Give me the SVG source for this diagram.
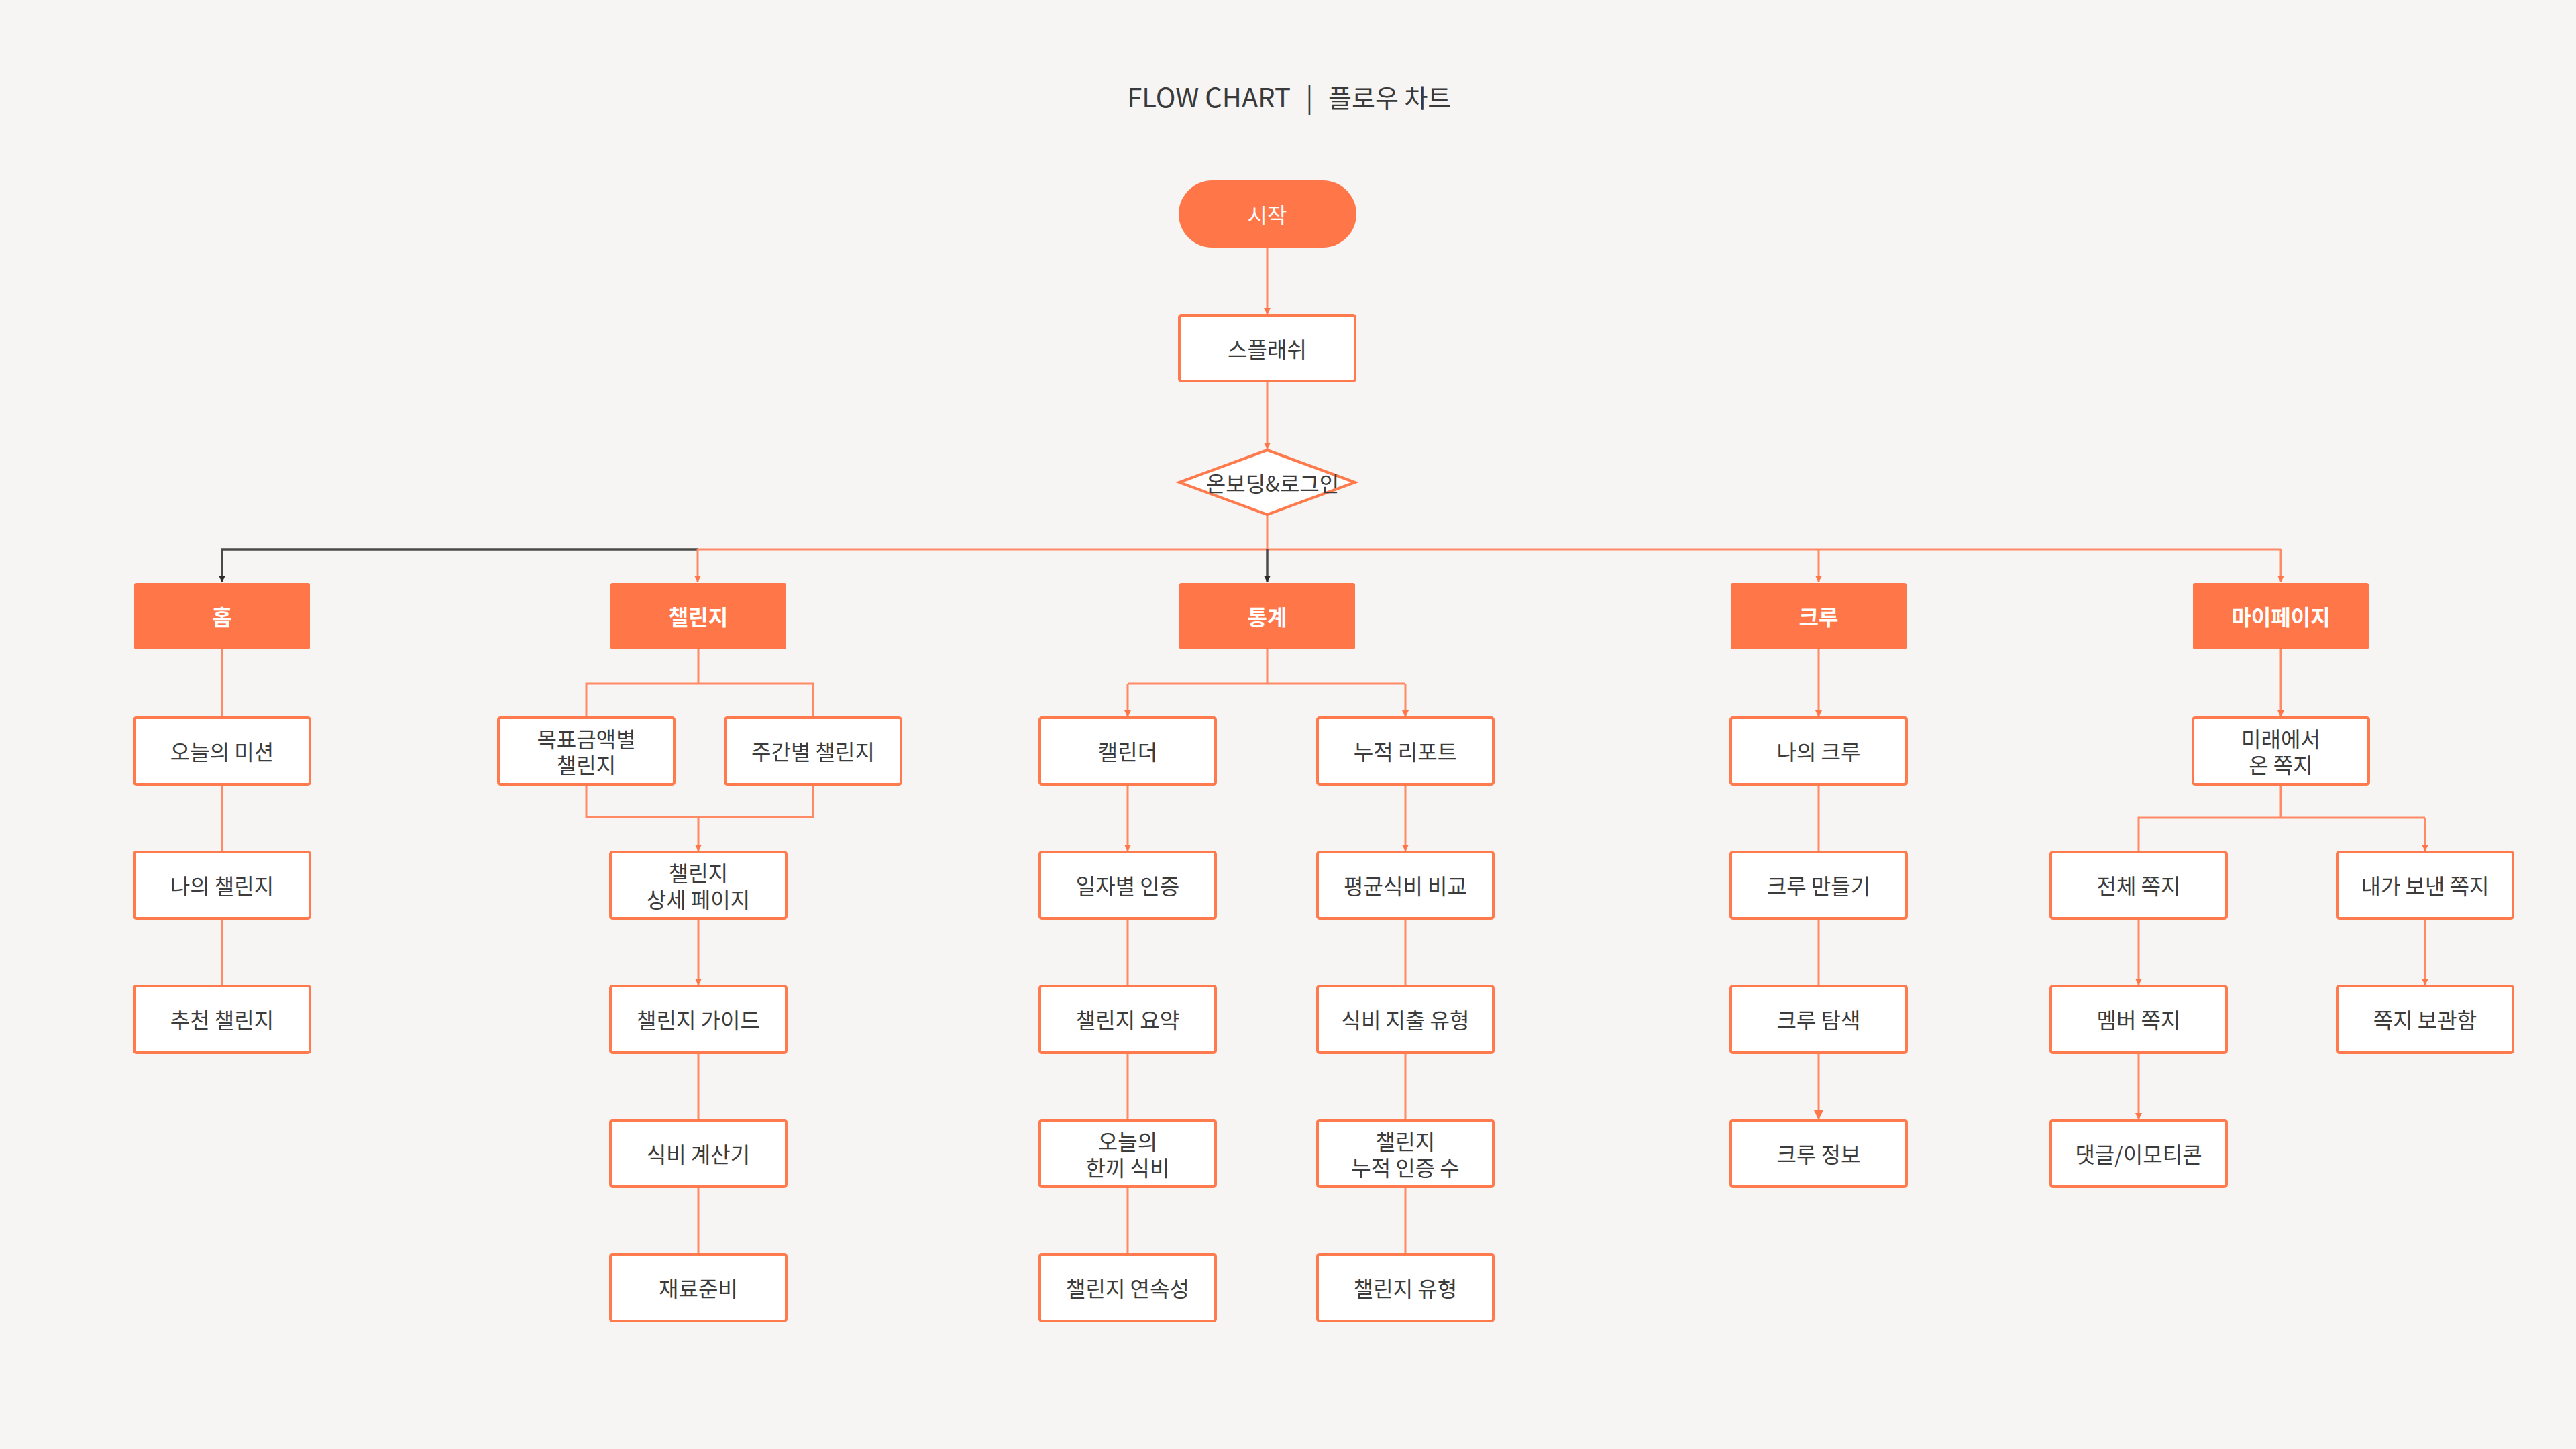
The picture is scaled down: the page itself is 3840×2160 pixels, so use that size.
<svg xmlns="http://www.w3.org/2000/svg" width="3840" height="2160" viewBox="0 0 3840 2160">
<defs>
<style>
.bg{fill:#F6F5F3}
.box{fill:#FFFFFF;stroke:#FF7A4D;stroke-width:4}
.cat{fill:#FF7649}
.t{font-family:"Noto Sans CJK KR","Noto Sans",sans-serif;font-size:32px;fill:#3c3c3c;text-anchor:middle;dominant-baseline:central}
.tc{font-family:"Noto Sans CJK KR","Noto Sans",sans-serif;font-size:32px;fill:#FFFFFF;font-weight:700;text-anchor:middle;dominant-baseline:central}
.title{font-family:"Noto Sans CJK KR","Noto Sans",sans-serif;font-size:40px;fill:#3a3a3a}
.ln{fill:none;stroke:#FF8A65;stroke-width:3}
.dk{fill:none;stroke:#4a4a4a;stroke-width:3.5}
.a{marker-end:url(#ao)}
.ab{marker-end:url(#aob)}
.ad{marker-end:url(#ad)}
</style>
<marker id="ao" markerUnits="userSpaceOnUse" markerWidth="12" markerHeight="12" refX="10" refY="5" orient="auto"><path d="M0,0 L10,5 L0,10 z" fill="#FF7649"/></marker>
<marker id="aob" markerUnits="userSpaceOnUse" markerWidth="16" markerHeight="16" refX="14" refY="7" orient="auto"><path d="M0,0 L14,7 L0,14 z" fill="#FF7649"/></marker>
<marker id="ad" markerUnits="userSpaceOnUse" markerWidth="12" markerHeight="12" refX="10" refY="5" orient="auto"><path d="M0,0 L10,5 L0,10 z" fill="#2b2b2b"/></marker>
</defs>
<rect class="bg" x="0" y="0" width="3840" height="2160"/>
<g id="title">
<text class="title" x="1924" y="160" text-anchor="end">FLOW CHART</text>
<text class="title" x="1952" y="160" text-anchor="middle">|</text>
<text class="title" x="1980" y="160" text-anchor="start" style="font-size:38px">플로우 차트</text>
</g>

<g id="connectors">
<path class="ln a" d="M1889,369 V469"/>
<path class="ln a" d="M1889,568 V670"/>
<path class="ln" d="M1889,768 V819"/>
<path class="ln" d="M1040,819 H3400"/>
<path class="dk ad" d="M1040,819 H331 V868"/>
<path class="dk ad" d="M1889,819 V868"/>
<path class="ln a" d="M1040,819 V868"/>
<path class="ln a" d="M2711,819 V868"/>
<path class="ln a" d="M3400,819 V868"/>
<path class="ln" d="M331,968 V1070"/>
<path class="ln" d="M331,1169 V1270"/>
<path class="ln" d="M331,1369 V1470"/>
<path class="ln" d="M1041,968 V1019 M874,1070 V1019 H1212 V1070"/>
<path class="ln" d="M874,1169 V1218 H1212 V1169"/>
<path class="ln a" d="M1041,1218 V1269"/>
<path class="ln a" d="M1041,1369 V1469"/>
<path class="ln" d="M1041,1569 V1670"/>
<path class="ln" d="M1041,1769 V1870"/>
<path class="ln" d="M1889,968 V1019 H1681 M1889,1019 H2095"/>
<path class="ln a" d="M1681,1019 V1069"/>
<path class="ln a" d="M2095,1019 V1069"/>
<path class="ln a" d="M1681,1169 V1269"/>
<path class="ln a" d="M2095,1169 V1269"/>
<path class="ln" d="M1681,1369 V1470 M1681,1569 V1670 M1681,1769 V1870"/>
<path class="ln" d="M2095,1369 V1470 M2095,1569 V1670 M2095,1769 V1870"/>
<path class="ln a" d="M2711,968 V1069"/>
<path class="ln" d="M2711,1169 V1270 M2711,1369 V1470"/>
<path class="ln ab" d="M2711,1569 V1669"/>
<path class="ln a" d="M3400,968 V1069"/>
<path class="ln" d="M3400,1169 V1219 H3188 V1270 M3400,1219 H3615"/>
<path class="ln a" d="M3615,1219 V1269"/>
<path class="ln a" d="M3188,1369 V1469"/>
<path class="ln a" d="M3615,1369 V1469"/>
<path class="ln a" d="M3188,1569 V1669"/>
</g>

<g id="start"><rect class="cat" x="1757" y="269" width="265" height="100" rx="50"/><text class="t" x="1889" y="319" style="fill:#fff">시작</text></g>
<g id="splash"><rect class="box" x="1758" y="470" width="262" height="98" rx="3"/><text class="t" x="1889" y="519">스플래쉬</text></g>
<g id="onboarding"><polygon class="box" points="1758,719 1889,671 2020,719 1889,767"/><text class="t" x="1897" y="719">온보딩&amp;로그인</text></g>

<g id="home"><rect class="cat" x="200" y="869" width="262" height="99" rx="3"/><text class="tc" x="331" y="918">홈</text></g>
<g id="challenge"><rect class="cat" x="910" y="869" width="262" height="99" rx="3"/><text class="tc" x="1041" y="918">챌린지</text></g>
<g id="stats"><rect class="cat" x="1758" y="869" width="262" height="99" rx="3"/><text class="tc" x="1889" y="918">통계</text></g>
<g id="crew"><rect class="cat" x="2580" y="869" width="262" height="99" rx="3"/><text class="tc" x="2711" y="918">크루</text></g>
<g id="mypage"><rect class="cat" x="3269" y="869" width="262" height="99" rx="3"/><text class="tc" x="3400" y="918">마이페이지</text></g>

<g id="today-mission"><rect class="box" x="200" y="1070" width="262" height="99" rx="3"/><text class="t" x="331" y="1119">오늘의 미션</text></g>
<g id="my-challenge"><rect class="box" x="200" y="1270" width="262" height="99" rx="3"/><text class="t" x="331" y="1319">나의 챌린지</text></g>
<g id="recommend-challenge"><rect class="box" x="200" y="1470" width="262" height="99" rx="3"/><text class="t" x="331" y="1519">추천 챌린지</text></g>

<g id="goal-challenge"><rect class="box" x="743" y="1070" width="262" height="99" rx="3"/><text class="t" x="874" y="1100">목표금액별</text><text class="t" x="874" y="1139">챌린지</text></g>
<g id="weekly-challenge"><rect class="box" x="1081" y="1070" width="262" height="99" rx="3"/><text class="t" x="1212" y="1119">주간별 챌린지</text></g>
<g id="challenge-detail"><rect class="box" x="910" y="1270" width="262" height="99" rx="3"/><text class="t" x="1041" y="1300">챌린지</text><text class="t" x="1041" y="1339">상세 페이지</text></g>
<g id="challenge-guide"><rect class="box" x="910" y="1470" width="262" height="99" rx="3"/><text class="t" x="1041" y="1519">챌린지 가이드</text></g>
<g id="meal-calc"><rect class="box" x="910" y="1670" width="262" height="99" rx="3"/><text class="t" x="1041" y="1719">식비 계산기</text></g>
<g id="ingredients"><rect class="box" x="910" y="1870" width="262" height="99" rx="3"/><text class="t" x="1041" y="1919">재료준비</text></g>

<g id="calendar"><rect class="box" x="1550" y="1070" width="262" height="99" rx="3"/><text class="t" x="1681" y="1119">캘린더</text></g>
<g id="daily-cert"><rect class="box" x="1550" y="1270" width="262" height="99" rx="3"/><text class="t" x="1681" y="1319">일자별 인증</text></g>
<g id="challenge-summary"><rect class="box" x="1550" y="1470" width="262" height="99" rx="3"/><text class="t" x="1681" y="1519">챌린지 요약</text></g>
<g id="today-meal"><rect class="box" x="1550" y="1670" width="262" height="99" rx="3"/><text class="t" x="1681" y="1700">오늘의</text><text class="t" x="1681" y="1739">한끼 식비</text></g>
<g id="challenge-streak"><rect class="box" x="1550" y="1870" width="262" height="99" rx="3"/><text class="t" x="1681" y="1919">챌린지 연속성</text></g>

<g id="report"><rect class="box" x="1964" y="1070" width="262" height="99" rx="3"/><text class="t" x="2095" y="1119">누적 리포트</text></g>
<g id="avg-compare"><rect class="box" x="1964" y="1270" width="262" height="99" rx="3"/><text class="t" x="2095" y="1319">평균식비 비교</text></g>
<g id="spend-type"><rect class="box" x="1964" y="1470" width="262" height="99" rx="3"/><text class="t" x="2095" y="1519">식비 지출 유형</text></g>
<g id="cert-count"><rect class="box" x="1964" y="1670" width="262" height="99" rx="3"/><text class="t" x="2095" y="1700">챌린지</text><text class="t" x="2095" y="1739">누적 인증 수</text></g>
<g id="challenge-type"><rect class="box" x="1964" y="1870" width="262" height="99" rx="3"/><text class="t" x="2095" y="1919">챌린지 유형</text></g>

<g id="my-crew"><rect class="box" x="2580" y="1070" width="262" height="99" rx="3"/><text class="t" x="2711" y="1119">나의 크루</text></g>
<g id="crew-create"><rect class="box" x="2580" y="1270" width="262" height="99" rx="3"/><text class="t" x="2711" y="1319">크루 만들기</text></g>
<g id="crew-explore"><rect class="box" x="2580" y="1470" width="262" height="99" rx="3"/><text class="t" x="2711" y="1519">크루 탐색</text></g>
<g id="crew-info"><rect class="box" x="2580" y="1670" width="262" height="99" rx="3"/><text class="t" x="2711" y="1719">크루 정보</text></g>

<g id="future-note"><rect class="box" x="3269" y="1070" width="262" height="99" rx="3"/><text class="t" x="3400" y="1100">미래에서</text><text class="t" x="3400" y="1139">온 쪽지</text></g>
<g id="all-notes"><rect class="box" x="3057" y="1270" width="262" height="99" rx="3"/><text class="t" x="3188" y="1319">전체 쪽지</text></g>
<g id="member-notes"><rect class="box" x="3057" y="1470" width="262" height="99" rx="3"/><text class="t" x="3188" y="1519">멤버 쪽지</text></g>
<g id="comments"><rect class="box" x="3057" y="1670" width="262" height="99" rx="3"/><text class="t" x="3188" y="1719">댓글/이모티콘</text></g>
<g id="sent-notes"><rect class="box" x="3484" y="1270" width="262" height="99" rx="3"/><text class="t" x="3615" y="1319">내가 보낸 쪽지</text></g>
<g id="note-archive"><rect class="box" x="3484" y="1470" width="262" height="99" rx="3"/><text class="t" x="3615" y="1519">쪽지 보관함</text></g>
</svg>
